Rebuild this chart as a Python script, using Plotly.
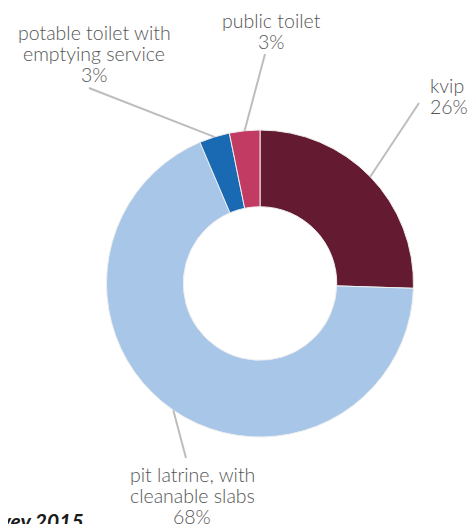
import math
import plotly.graph_objects as go

# page body has an 8px margin; draw in reference pixel coords and shift
OFF = 8
W, H = 476 - OFF, 524 - OFF

labels = ["kvip", "pit latrine, with cleanable slabs", "potable toilet with emptying service", "public toilet"]
label_names = [["kvip"],
               ["pit latrine, with", "cleanable slabs"],
               ["potable toilet with", "emptying service"],
               ["public toilet"]]
values = [25.5, 68.1, 3.2, 3.2]
pct_labels = ["26%", "68%", "3%", "3%"]
colors = ["#641b31", "#a8c6e8", "#1a69b3", "#c23b62"]

# layout (reference pixels)
cx, cy, R = 260, 283.5, 153.5
hole = 0.50

def px(x):
    return (x - OFF) / W

def py(y):
    return 1 - (y - OFF) / H

fig = go.Figure(go.Pie(
    labels=labels, values=values, sort=False, direction="clockwise", rotation=0,
    hole=hole, textinfo="none", hoverinfo="label+percent",
    marker=dict(colors=colors, line=dict(color="#eeeeee", width=1)),
    domain=dict(x=[px(cx - R), px(cx + R)], y=[py(cy + R), py(cy - R)]),
    showlegend=False,
))

# label placement: x anchor, first baseline, xanchor, leader end point
label_pos = [
    dict(x=428, base=92, xa="left", end=(419, 103)),
    dict(x=192, base=480.7, xa="center", end=(186, 458)),
    dict(x=94, base=39.3, xa="center", end=(89, 88)),
    dict(x=271, base=26.7, xa="center", end=(265, 54)),
]
FS = 19.5
LINE = 21
font = dict(family="Lato, 'Open Sans', sans-serif", size=FS, color="#555555", weight=300)

total = sum(values)
cum = 0
shapes, annos = [], []
for i, v in enumerate(values):
    mid = (cum + v / 2) / total * 2 * math.pi
    cum += v
    sx = cx + R * math.sin(mid)
    sy = cy - R * math.cos(mid)
    lp = label_pos[i]
    ex, ey = lp["end"]
    shapes.append(dict(type="line", xref="paper", yref="paper",
                       x0=px(sx), y0=py(sy), x1=px(ex), y1=py(ey),
                       line=dict(color="#bdbdbd", width=2)))
    for j, t in enumerate(label_names[i] + [pct_labels[i]]):
        base = lp["base"] + j * LINE
        annos.append(dict(text=t, xref="paper", yref="paper",
                          x=px(lp["x"]), y=py(base - 6.5), xanchor=lp["xa"], yanchor="middle",
                          showarrow=False, font=font))

annos.append(dict(text="<b><i>Survey 2015</i></b>", xref="paper", yref="paper",
                  x=px(86), y=py(520), xanchor="right", yanchor="middle", showarrow=False,
                  font=dict(family="Lato, 'Open Sans', sans-serif", size=21, color="#1a1a1a")))

fig.update_layout(width=W, height=H, margin=dict(l=0, r=0, t=0, b=0),
                  paper_bgcolor="white", plot_bgcolor="white",
                  shapes=shapes, annotations=annos)

fig.write_html("out.html")
